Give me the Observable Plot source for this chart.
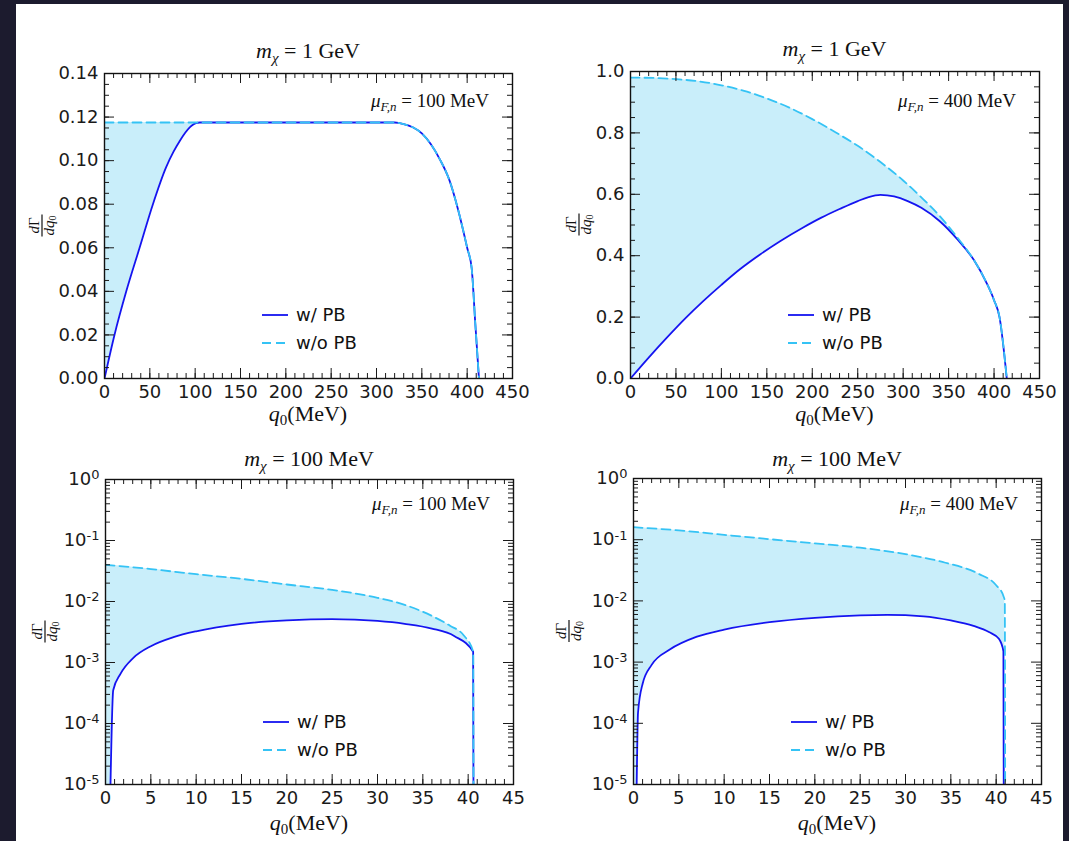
<!DOCTYPE html>
<html><head><meta charset="utf-8">
<script src="https://cdn.jsdelivr.net/npm/d3@7"></script>
<script src="https://cdn.jsdelivr.net/npm/@observablehq/plot@0.6"></script>
<style>
html,body{margin:0;padding:0;background:#1c1b2e;}
#page{position:relative;width:1069px;height:841px;overflow:hidden;background:#1c1b2e;}
#sheet{position:absolute;left:16px;top:4px;width:1047px;height:837px;background:#fff;}
#overlay{position:absolute;left:0;top:0;}
.m{font-family:"Liberation Serif","DejaVu Serif",serif;fill:#111;}
.s{font-family:"DejaVu Sans",sans-serif;fill:#111;}
</style></head>
<body><div id="page"><div id="sheet"></div></div>
<script>
// ---------- data ----------
// Panel 1: m_chi = 1 GeV, mu = 100 MeV
const p1_q_wo = [0, 100, 200, 300, 320, 330, 340, 350, 360, 370, 380, 390, 400, 405, 409, 413];
const p1_v_wo = [0.1175, 0.1175, 0.1175, 0.1175, 0.1175, 0.1168, 0.1153, 0.1125, 0.1075, 0.1005, 0.0915, 0.0775, 0.060, 0.0505, 0.025, 0];
const p1_q_w  = [0, 11, 24, 38.7, 53.4, 68, 76, 83, 89, 94, 98, 101, 105, 200, 300, 320, 330, 340, 350, 360, 370, 380, 390, 400, 405, 409, 413];
const p1_v_w  = [0, 0.020, 0.040, 0.060, 0.080, 0.097, 0.104, 0.109, 0.1128, 0.1153, 0.1166, 0.1172, 0.1175, 0.1175, 0.1175, 0.1175, 0.1168, 0.1153, 0.1125, 0.1075, 0.1005, 0.0915, 0.0775, 0.060, 0.0505, 0.025, 0];
// Panel 2: m_chi = 1 GeV, mu = 400 MeV
const p2_q_wo = [0, 25, 50, 75, 100, 125, 150, 175, 200, 225, 250, 275, 300, 320, 340, 360, 378, 392, 400, 406, 414];
const p2_v_wo = [0.980, 0.979, 0.975, 0.968, 0.955, 0.937, 0.912, 0.882, 0.845, 0.803, 0.758, 0.705, 0.645, 0.59, 0.53, 0.458, 0.385, 0.31, 0.255, 0.20, 0];
const p2_q_w  = [0, 20, 40, 60, 80, 100, 120, 143, 165, 190, 210, 230, 250, 262, 275, 290, 305, 320, 340, 360, 378, 392, 400, 406, 414];
const p2_v_w  = [0, 0.068, 0.133, 0.195, 0.252, 0.305, 0.355, 0.405, 0.448, 0.492, 0.524, 0.552, 0.578, 0.591, 0.598, 0.593, 0.578, 0.556, 0.513, 0.452, 0.385, 0.31, 0.255, 0.20, 0];
// Panel 3: m_chi = 100 MeV, mu = 100 MeV
const p3_q_wo = [0, 5, 10, 15, 20, 25, 30, 33, 36, 38, 39.5, 40.55, 40.6];
const p3_v_wo = [0.040, 0.034, 0.028, 0.0235, 0.019, 0.0155, 0.0115, 0.0088, 0.0058, 0.0040, 0.0028, 0.0015, 1e-6];
const p3_q_w  = [0.55, 0.85, 1.65, 3.1, 5, 7.5, 10, 15, 20, 25, 30, 33, 36, 38.5, 40.55, 40.6];
const p3_v_w  = [1e-5, 3.5e-4, 6.5e-4, 1.2e-3, 1.85e-3, 2.6e-3, 3.25e-3, 4.3e-3, 4.9e-3, 5.15e-3, 4.8e-3, 4.3e-3, 3.6e-3, 2.7e-3, 1.5e-3, 1e-6];
// Panel 4: m_chi = 100 MeV, mu = 400 MeV
const p4_q_wo = [0, 5, 10, 15, 20, 25, 30, 34.4, 38, 40, 40.8, 40.95, 41.0];
const p4_v_wo = [0.16, 0.142, 0.12, 0.102, 0.087, 0.074, 0.058, 0.042, 0.028, 0.018, 0.012, 0.010, 1e-6];
const p4_q_w  = [0.35, 0.5, 1, 2, 4, 7, 10, 15, 20, 25, 28, 32, 35, 37.5, 39.2, 40.3, 40.8, 40.85];
const p4_v_w  = [1e-5, 1.5e-4, 4.4e-4, 9e-4, 1.6e-3, 2.6e-3, 3.4e-3, 4.5e-3, 5.3e-3, 5.8e-3, 5.9e-3, 5.6e-3, 4.8e-3, 3.9e-3, 3.1e-3, 2.4e-3, 1.5e-3, 1e-6];

// tick labels
const xTicksGeV = [0, 50, 100, 150, 200, 250, 300, 350, 400, 450];
const xTicksMeV = [0, 5, 10, 15, 20, 25, 30, 35, 40, 45];
const yTicks1 = [0, 0.02, 0.04, 0.06, 0.08, 0.10, 0.12, 0.14];
const yTicks2 = [0, 0.2, 0.4, 0.6, 0.8, 1.0];
const yTicksLog = [1e-5, 1e-4, 1e-3, 1e-2, 1e-1, 1];

const titles = ["1 GeV", "1 GeV", "100 MeV", "100 MeV"];
const muValues = ["100", "400", "100", "400"];
const seriesNames = ["w/ PB", "w/o PB"];

// ---------- style ----------
const BLUE = "#1414f0", CYAN = "#35c3f5", FILL = "#c9eefa", INK = "#1a1a1a";

const zip = (q, v) => q.map((x, i) => ({q: x, v: v[i]}));
const logFmt = d => "1e" + Math.round(Math.log10(d));

const page = document.getElementById("page");

const panels = [
  {left: 0, top: 0, width: 534, height: 430, L: 104, R: 512, T: 73, B: 378,
   xDomain: [0, 450], yDomain: [0, 0.14], yType: "linear",
   xMajor: xTicksGeV, xMinor: d3.range(0, 451, 10), yMajor: yTicks1, yMinor: d3.range(0, 0.1401, 0.005),
   yFmt: d3.format(".2f"), wo: zip(p1_q_wo, p1_v_wo), w: zip(p1_q_w, p1_v_w),
   titleY: 58, muY: 107, ylabX: 42, legY: [315, 343], xlabY: 421},
  {left: 534, top: 0, width: 535, height: 430, L: 630, R: 1039, T: 71, B: 378,
   xDomain: [0, 450], yDomain: [0, 1.0], yType: "linear",
   xMajor: xTicksGeV, xMinor: d3.range(0, 451, 10), yMajor: yTicks2, yMinor: d3.range(0, 1.0001, 0.05),
   yFmt: d3.format(".1f"), wo: zip(p2_q_wo, p2_v_wo), w: zip(p2_q_w, p2_v_w),
   titleY: 56, muY: 107, ylabX: 579, legY: [315, 343], xlabY: 421},
  {left: 0, top: 430, width: 534, height: 411, L: 105, R: 513, T: 479, B: 784,
   xDomain: [0, 45], yDomain: [1e-5, 1], yType: "log",
   xMajor: xTicksMeV, xMinor: d3.range(0, 46, 1), yMajor: yTicksLog,
   yMinor: d3.range(-5, 0).flatMap(e => d3.range(2, 10).map(k => k * Math.pow(10, e))),
   yFmt: logFmt, wo: zip(p3_q_wo, p3_v_wo), w: zip(p3_q_w, p3_v_w),
   titleY: 466, muY: 510, ylabX: 45, legY: [722, 750], xlabY: 830},
  {left: 534, top: 430, width: 535, height: 411, L: 633, R: 1041, T: 478, B: 784,
   xDomain: [0, 45], yDomain: [1e-5, 1], yType: "log",
   xMajor: xTicksMeV, xMinor: d3.range(0, 46, 1), yMajor: yTicksLog,
   yMinor: d3.range(-5, 0).flatMap(e => d3.range(2, 10).map(k => k * Math.pow(10, e))),
   yFmt: logFmt, wo: zip(p4_q_wo, p4_v_wo), w: zip(p4_q_w, p4_v_w),
   titleY: 466, muY: 510, ylabX: 569, legY: [722, 750], xlabY: 830}
];

for (const p of panels) {
  const fh = p.B - p.T, fw = p.R - p.L;
  const base = p.yDomain[0];
  const MAJ = 10, MIN = 5;
  const tk = {stroke: INK, strokeWidth: 1};
  const cv = "monotone-x";
  const svg = Plot.plot({
    width: p.width, height: p.height,
    marginLeft: p.L - p.left, marginRight: p.left + p.width - p.R,
    marginTop: p.T - p.top, marginBottom: p.top + p.height - p.B,
    style: {fontFamily: "'DejaVu Sans', sans-serif", fontSize: "18px", color: INK, background: "transparent", overflow: "visible"},
    x: {domain: p.xDomain, axis: null},
    y: {type: p.yType, domain: p.yDomain, axis: null},
    marks: [
      Plot.areaY(p.wo, {x: "q", y1: () => base, y2: "v", fill: FILL, curve: cv, clip: true}),
      Plot.areaY(p.w, {x: "q", y1: () => base, y2: "v", fill: "white", curve: cv, clip: true}),
      Plot.line(p.w, {x: "q", y: "v", stroke: BLUE, strokeWidth: 1.8, curve: cv, clip: true}),
      Plot.line(p.wo, {x: "q", y: "v", stroke: CYAN, strokeWidth: 1.8, strokeDasharray: "9,5", curve: cv, clip: true}),
      Plot.ruleX(p.xMinor, {x: d => d, insetTop: fh - MIN, ...tk}),
      Plot.ruleX(p.xMinor, {x: d => d, insetBottom: fh - MIN, ...tk}),
      Plot.ruleX(p.xMajor, {x: d => d, insetTop: fh - MAJ, ...tk}),
      Plot.ruleX(p.xMajor, {x: d => d, insetBottom: fh - MAJ, ...tk}),
      Plot.ruleY(p.yMinor, {y: d => d, insetRight: fw - MIN, ...tk}),
      Plot.ruleY(p.yMinor, {y: d => d, insetLeft: fw - MIN, ...tk}),
      Plot.ruleY(p.yMajor, {y: d => d, insetRight: fw - MAJ, ...tk}),
      Plot.ruleY(p.yMajor, {y: d => d, insetLeft: fw - MAJ, ...tk}),
      Plot.axisX(p.xMajor, {tickSize: 0, tickPadding: 7, fontSize: 18, tickFormat: d => String(d), label: null}),
      Plot.axisY(p.yMajor, {tickSize: 0, tickPadding: 6, fontSize: 18, tickFormat: p.yFmt, label: null}),
      Plot.frame({stroke: "#111", strokeWidth: 1.4})
    ]
  });
  svg.style.position = "absolute";
  svg.style.left = p.left + "px";
  svg.style.top = p.top + "px";
  svg.style.maxWidth = "none";
  // typeset log tick labels "1eN" from Plot's axis as 10 with a superscript exponent
  if (p.yType === "log") {
    svg.querySelectorAll('g[aria-label="y-axis tick label"] text').forEach(t => {
      const m = /^1e(-?\d+)$/.exec(t.textContent.trim());
      if (!m) return;
      t.textContent = "";
      const NS = "http://www.w3.org/2000/svg";
      const a = document.createElementNS(NS, "tspan"); a.textContent = "10";
      const b = document.createElementNS(NS, "tspan");
      b.setAttribute("dy", "-0.45em"); b.setAttribute("font-size", "13");
      b.textContent = m[1];
      t.appendChild(a); t.appendChild(b);
    });
  }
  page.appendChild(svg);
}

// ---------- overlay texts (titles, annotations, legends, axis labels) ----------
let o = `<svg id="overlay" width="1069" height="841" xmlns="http://www.w3.org/2000/svg">`;
panels.forEach((p, i) => {
  const cx = (p.L + p.R) / 2, cy = (p.T + p.B) / 2;
  o += `<text class="m" x="${cx}" y="${p.titleY}" text-anchor="middle" font-size="22"><tspan font-style="italic">m</tspan><tspan font-style="italic" font-size="15" dy="5">χ</tspan><tspan dy="-5"> = ${titles[i]}</tspan></text>`;
  o += `<text class="m" x="${p.R - 23}" y="${p.muY}" text-anchor="end" font-size="19"><tspan font-style="italic">μ</tspan><tspan font-style="italic" font-size="13" dy="4">F,n</tspan><tspan dy="-4"> = ${muValues[i]} MeV</tspan></text>`;
  o += `<text class="m" x="${cx}" y="${p.xlabY}" text-anchor="middle" font-size="22"><tspan font-style="italic">q</tspan><tspan font-size="15" dy="4">0</tspan><tspan dy="-4">(MeV)</tspan></text>`;
  o += `<g transform="translate(${p.ylabX},${cy}) rotate(-90)">
    <text class="m" x="0" y="-3" text-anchor="middle" font-size="15"><tspan font-style="italic">d</tspan>Γ</text>
    <line x1="-11" x2="11" y1="0" y2="0" stroke="#111" stroke-width="1.2"/>
    <text class="m" x="0" y="12" text-anchor="middle" font-size="15"><tspan font-style="italic">dq</tspan><tspan font-size="10" dy="2">0</tspan></text></g>`;
  const lx = p.L + 158;
  o += `<line x1="${lx}" x2="${lx + 26}" y1="${p.legY[0]}" y2="${p.legY[0]}" stroke="${BLUE}" stroke-width="1.8"/>`;
  o += `<line x1="${lx}" x2="${lx + 26}" y1="${p.legY[1]}" y2="${p.legY[1]}" stroke="${CYAN}" stroke-width="1.8" stroke-dasharray="9,5"/>`;
  o += `<text class="s" x="${lx + 34}" y="${p.legY[0] + 6}" font-size="18">${seriesNames[0]}</text>`;
  o += `<text class="s" x="${lx + 34}" y="${p.legY[1] + 6}" font-size="18">${seriesNames[1]}</text>`;
});
o += `</svg>`;
page.insertAdjacentHTML("beforeend", o);
</script>
</body></html>
